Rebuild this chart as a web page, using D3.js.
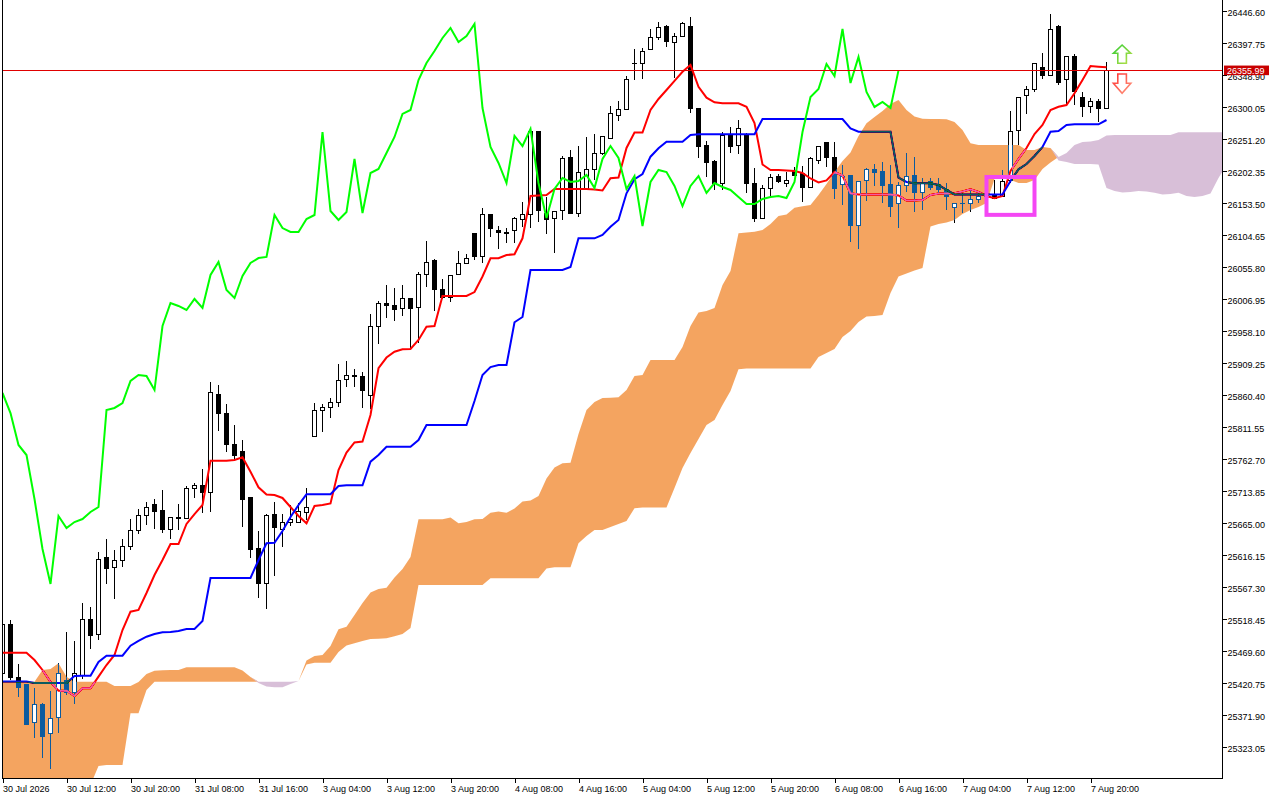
<!DOCTYPE html>
<html>
<head>
<meta charset="utf-8">
<script src="https://cdn.jsdelivr.net/npm/d3@7"></script>
<style>
html, body { margin: 0; padding: 0; background: #fff; }
svg { display: block; }
</style>
</head>
<body>
<div class="chart"></div>
<script>
// hourly bars, 30 Jul 2026 04:00 .. 7 Aug 2026 ~22:00
const opens = [
 25436.0, 25510.8, 25428.4, 25417.7, 25359.7, 25387.2, 25344.4, 25368.8, 25425.3, 25407.0,
 25432.9, 25518.4, 25495.5, 25611.6, 25597.8, 25608.5, 25628.4, 25654.3, 25675.7, 25694.0,
 25684.8, 25655.8, 25672.6, 25672.6, 25718.4, 25723.0, 25710.8, 25861.9, 25832.9, 25784.1,
 25774.9, 25703.2, 25626.8, 25573.4, 25678.7, 25655.8, 25666.5, 25666.5, 25680.3, 25797.8,
 25836.0, 25840.6, 25848.2, 25883.3, 25890.9, 25889.4, 25860.4, 25965.7, 26000.8, 25996.3,
 25993.2, 26007.0, 25994.7, 26043.6, 26065.0, 26020.7, 26008.5, 26043.6, 26061.9, 26106.2,
 26071.1, 26135.2, 26110.8, 26106.2, 26110.8, 26127.6, 26135.2, 26261.9, 26138.2, 26129.1,
 26141.3, 26222.2, 26138.2, 26173.4, 26205.4, 26229.8, 26252.7, 26287.8, 26295.5, 26365.7,
 26365.7, 26387.1, 26405.4, 26422.2, 26397.8, 26408.4, 26422.2, 26297.0, 26242.0, 26216.1,
 26184.0, 26257.3, 26242.0, 26257.3, 26184.0, 26130.6, 26174.9, 26193.2, 26184.0, 26202.3,
 26197.8, 26176.4, 26219.1, 26245.1, 26223.7, 26182.5, 26196.2, 26118.4, 26187.1, 26203.9,
 26202.3, 26181.0, 26152.0, 26179.5, 26196.2, 26168.8, 26185.6, 26181.0, 26173.4, 26145.9,
 26153.5, 26153.5, 26159.6, 26162.7, 26167.2, 26162.7, 26187.1, 26264.9, 26316.9, 26327.5,
 26361.1, 26348.9, 26422.2, 26341.3, 26376.4, 26315.3, 26300.1, 26309.2, 26298.5];
const highs = [
 25513.9, 25516.9, 25449.7, 25419.2, 25413.1, 25390.2, 25408.5, 25451.3, 25498.6, 25484.9,
 25542.9, 25536.8, 25620.7, 25640.6, 25623.8, 25640.6, 25671.1, 25686.4, 25697.1, 25701.6,
 25715.4, 25674.1, 25694.0, 25721.5, 25726.1, 25747.4, 25880.2, 25875.7, 25846.7, 25814.6,
 25791.7, 25703.2, 25652.8, 25678.7, 25697.1, 25678.7, 25692.5, 25695.5, 25718.4, 25848.2,
 25846.7, 25855.8, 25907.7, 25912.3, 25900.1, 25895.5, 25984.0, 26003.9, 26028.3, 26023.7,
 26028.3, 26007.0, 26048.2, 26095.5, 26068.0, 26037.5, 26042.1, 26080.2, 26075.6, 26106.2,
 26145.9, 26135.2, 26118.4, 26115.3, 26132.1, 26155.0, 26264.9, 26263.4, 26162.7, 26139.8,
 26225.3, 26234.4, 26240.5, 26254.3, 26258.8, 26255.8, 26301.6, 26309.2, 26347.4, 26388.6,
 26390.1, 26419.1, 26429.8, 26425.2, 26413.0, 26429.8, 26437.5, 26297.0, 26248.2, 26219.1,
 26261.9, 26269.5, 26280.2, 26260.4, 26206.9, 26181.0, 26197.8, 26197.8, 26200.8, 26208.5,
 26210.0, 26223.7, 26240.5, 26245.1, 26246.6, 26211.5, 26196.2, 26185.6, 26206.9, 26213.0,
 26216.1, 26211.5, 26185.6, 26229.8, 26223.7, 26191.7, 26191.7, 26191.7, 26184.0, 26152.0,
 26168.8, 26173.4, 26170.3, 26168.8, 26188.6, 26203.9, 26294.0, 26315.3, 26332.1, 26367.2,
 26382.5, 26442.0, 26425.2, 26376.4, 26381.0, 26323.0, 26313.8, 26312.3, 26368.8];
const lows = [
 25431.4, 25425.3, 25399.4, 25356.6, 25336.8, 25306.2, 25289.4, 25344.4, 25402.4, 25388.7,
 25426.8, 25472.6, 25486.4, 25571.9, 25549.0, 25597.8, 25623.8, 25648.2, 25661.9, 25655.8,
 25649.7, 25640.6, 25654.3, 25672.6, 25703.2, 25680.3, 25681.8, 25805.4, 25773.4, 25761.2,
 25658.9, 25611.6, 25550.5, 25533.7, 25584.1, 25628.4, 25660.4, 25665.0, 25669.6, 25797.8,
 25803.9, 25825.3, 25842.1, 25872.6, 25872.6, 25840.6, 25839.0, 25938.3, 25977.9, 25973.4,
 25981.0, 25929.1, 25939.8, 26025.3, 25988.6, 26007.0, 26002.4, 26043.6, 26061.9, 26066.5,
 26061.9, 26101.6, 26083.3, 26092.4, 26092.4, 26116.9, 26115.3, 26124.5, 26106.2, 26077.2,
 26127.6, 26136.7, 26132.1, 26173.4, 26188.6, 26226.8, 26251.2, 26278.7, 26295.5, 26341.3,
 26342.8, 26387.1, 26402.3, 26391.7, 26344.3, 26406.9, 26290.9, 26222.2, 26193.2, 26173.4,
 26173.4, 26229.8, 26228.3, 26168.8, 26124.5, 26129.1, 26164.2, 26184.0, 26177.9, 26196.2,
 26155.0, 26176.4, 26213.0, 26208.5, 26159.6, 26150.5, 26094.0, 26083.3, 26156.6, 26179.5,
 26153.5, 26132.1, 26115.3, 26170.3, 26139.8, 26142.8, 26173.4, 26168.8, 26142.8, 26123.0,
 26138.2, 26139.8, 26153.5, 26159.6, 26161.1, 26162.7, 26184.0, 26242.0, 26289.4, 26323.0,
 26342.8, 26347.4, 26333.6, 26303.1, 26303.1, 26284.8, 26290.9, 26277.2, 26298.5];
const closes = [
 25510.8, 25428.4, 25414.6, 25358.1, 25387.2, 25339.8, 25367.3, 25436.0, 25407.0, 25434.5,
 25518.4, 25492.5, 25610.0, 25596.3, 25608.5, 25628.4, 25654.3, 25675.7, 25689.4, 25681.8,
 25655.8, 25674.1, 25674.1, 25718.4, 25721.5, 25712.3, 25863.5, 25832.9, 25784.1, 25768.8,
 25701.6, 25625.3, 25571.9, 25675.7, 25657.4, 25666.5, 25671.1, 25681.8, 25689.4, 25837.5,
 25840.6, 25848.2, 25881.8, 25890.9, 25889.4, 25868.0, 25965.7, 26000.8, 25996.3, 25990.2,
 26007.0, 25993.2, 26043.6, 26063.4, 26020.7, 26008.5, 26042.1, 26061.9, 26069.5, 26071.1,
 26135.2, 26115.3, 26109.2, 26109.2, 26129.1, 26135.2, 26261.9, 26141.3, 26127.6, 26139.8,
 26220.7, 26138.2, 26199.3, 26205.4, 26229.8, 26254.3, 26289.4, 26295.5, 26341.3, 26367.2,
 26385.5, 26405.4, 26420.7, 26399.3, 26408.4, 26426.8, 26298.5, 26239.0, 26214.6, 26184.0,
 26255.8, 26240.5, 26266.5, 26184.0, 26130.6, 26174.9, 26191.7, 26185.6, 26187.1, 26196.2,
 26176.4, 26220.7, 26240.5, 26222.2, 26174.9, 26194.7, 26118.4, 26185.6, 26203.9, 26200.8,
 26179.5, 26148.9, 26179.5, 26194.7, 26168.8, 26184.0, 26177.9, 26173.4, 26162.7, 26152.0,
 26152.0, 26159.6, 26162.7, 26164.2, 26161.1, 26185.6, 26261.9, 26315.3, 26327.5, 26365.7,
 26347.4, 26419.1, 26336.7, 26376.4, 26323.0, 26300.1, 26307.7, 26298.5, 26355.99];

// Ichimoku lines
const tenkan = [
 25467.0, 25467.0, 25467.0, 25467.0, 25455.8, 25440.6, 25422.3, 25409.0, 25409.0, 25400.9,
 25412.6, 25412.6, 25430.4, 25448.2, 25463.5, 25501.6, 25529.6, 25532.2, 25558.1, 25585.6,
 25608.5, 25632.9, 25632.9, 25663.5, 25678.7, 25692.5, 25760.1, 25760.1, 25760.1, 25761.2,
 25765.3, 25743.3, 25719.5, 25708.5, 25707.7, 25703.2, 25689.4, 25675.7, 25664.5, 25690.9,
 25692.5, 25694.8, 25745.9, 25772.6, 25787.9, 25789.4, 25829.9, 25901.2, 25917.6, 25926.5,
 25930.2, 25930.6, 25944.4, 25964.7, 25965.7, 26011.5, 26011.5, 26011.5, 26011.5, 26017.6,
 26041.3, 26069.1, 26069.1, 26074.1, 26075.2, 26099.6, 26164.2, 26165.0, 26165.7, 26174.9,
 26174.9, 26174.9, 26174.9, 26174.9, 26174.1, 26172.6, 26191.2, 26192.4, 26237.5, 26261.1,
 26261.1, 26295.5, 26312.3, 26326.0, 26339.8, 26353.9, 26364.2, 26331.0, 26314.3, 26307.2,
 26305.7, 26305.7, 26305.7, 26300.5, 26275.6, 26212.3, 26203.9, 26203.9, 26203.1, 26202.3,
 26199.3, 26190.9, 26184.8, 26187.9, 26200.8, 26195.5, 26168.3, 26166.5, 26166.5, 26166.5,
 26166.5, 26166.5, 26165.0, 26157.3, 26157.3, 26158.1, 26165.7, 26168.0, 26168.0, 26168.3,
 26171.1, 26174.4, 26170.3, 26164.2, 26160.7, 26164.2, 26202.3, 26220.7, 26237.5, 26258.8,
 26272.6, 26295.5, 26300.5, 26303.1, 26321.0, 26341.3, 26362.6, 26361.6, 26360.7];
const kijun = [
 25423.0, 25423.0, 25423.0, 25423.0, 25420.7, 25420.7, 25420.7, 25420.7, 25420.7, 25431.4,
 25431.9, 25431.9, 25452.8, 25462.4, 25462.4, 25462.4, 25477.7, 25484.9, 25491.4, 25495.5,
 25498.1, 25498.6, 25500.1, 25503.2, 25503.2, 25515.4, 25581.0, 25581.0, 25581.0, 25581.0,
 25581.0, 25581.0, 25608.5, 25634.0, 25634.9, 25652.8, 25674.1, 25692.5, 25708.8, 25708.8,
 25708.8, 25708.8, 25721.5, 25722.5, 25722.5, 25722.5, 25758.6, 25768.8, 25781.5, 25781.5,
 25781.5, 25781.5, 25791.7, 25814.6, 25814.6, 25814.6, 25814.6, 25814.6, 25814.6, 25851.2,
 25890.9, 25903.1, 25906.2, 25906.2, 25971.4, 25979.5, 26051.2, 26051.2, 26051.2, 26051.2,
 26051.2, 26055.8, 26099.6, 26099.6, 26099.6, 26104.7, 26117.3, 26127.6, 26168.3, 26189.7,
 26197.8, 26224.2, 26237.0, 26247.1, 26247.1, 26247.1, 26257.3, 26258.4, 26258.4, 26258.4,
 26258.4, 26258.4, 26258.4, 26258.4, 26258.4, 26281.7, 26281.7, 26281.7, 26281.7, 26281.7,
 26281.7, 26281.7, 26281.7, 26281.7, 26281.7, 26281.7, 26267.5, 26262.3, 26262.3, 26262.3,
 26262.3, 26262.3, 26192.4, 26185.6, 26183.6, 26183.6, 26183.6, 26181.0, 26173.4, 26166.5,
 26166.5, 26166.5, 26166.5, 26166.5, 26166.5, 26166.5, 26187.1, 26204.9, 26213.0, 26225.3,
 26239.0, 26262.3, 26263.4, 26272.6, 26273.6, 26273.6, 26273.6, 26273.6, 26280.2];
// senkou spans, already shifted forward (index = bar on screen)
const spanA = [
 25422.7, 25422.7, 25422.7, 25422.7, 25422.7, 25440.6, 25442.1, 25450.8, 25430.4, 25422.7,
 25422.7, 25422.7, 25422.7, 25422.7, 25416.2, 25416.2, 25416.2, 25422.3, 25434.5, 25439.5,
 25440.1, 25440.6, 25440.6, 25444.7, 25444.7, 25444.7, 25444.7, 25444.7, 25444.7, 25444.7,
 25439.8, 25429.9, 25420.7, 25415.4, 25414.2, 25414.2, 25419.2, 25423.8, 25455.1, 25462.0,
 25463.5, 25477.2, 25502.7, 25506.7, 25524.5, 25542.9, 25558.9, 25564.2, 25566.2, 25581.8,
 25594.8, 25613.1, 25670.6, 25670.6, 25670.6, 25670.6, 25673.4, 25664.5, 25666.5, 25670.6,
 25671.1, 25680.7, 25682.5, 25680.7, 25687.1, 25697.8, 25699.3, 25706.2, 25732.9, 25749.7,
 25756.1, 25757.0, 25800.9, 25837.5, 25849.7, 25855.8, 25856.1, 25856.9, 25868.0, 25889.4,
 25890.9, 25913.8, 25913.8, 25913.8, 25913.8, 25933.7, 25965.7, 25986.3, 25988.6, 25993.2,
 26028.3, 26049.7, 26107.2, 26108.5, 26109.7, 26112.3, 26121.4, 26133.7, 26135.9, 26146.2,
 26148.5, 26150.5, 26165.7, 26182.5, 26200.8, 26217.6, 26230.6, 26255.8, 26275.2, 26284.8,
 26294.0, 26304.6, 26310.7, 26295.5, 26285.6, 26282.0, 26281.7, 26281.7, 26281.3, 26277.2,
 26264.9, 26244.6, 26242.0, 26242.0, 26242.0, 26242.0, 26242.0, 26242.0, 26234.4, 26234.4,
 26239.0, 26237.5, 26218.4, 26216.1, 26213.0, 26213.0, 26213.0, 26212.3, 26176.4, 26171.8,
 26169.5, 26170.3, 26171.8, 26171.1, 26169.2, 26166.5, 26167.2, 26169.2, 26164.2, 26162.7,
 26164.2, 26168.0, 26191.7, 26211.5];
const spanB = [
 25242.1, 25242.1, 25242.1, 25242.1, 25242.1, 25242.1, 25242.1, 25242.1, 25242.1, 25242.1,
 25242.1, 25265.0, 25294.0, 25295.6, 25295.6, 25295.6, 25374.5, 25374.5, 25410.1, 25422.7,
 25422.7, 25422.7, 25422.7, 25422.7, 25422.7, 25422.7, 25422.7, 25422.7, 25422.7, 25422.7,
 25422.7, 25422.7, 25422.7, 25422.7, 25422.7, 25422.7, 25422.7, 25423.8, 25449.0, 25451.7,
 25451.7, 25451.7, 25468.1, 25478.0, 25481.3, 25484.9, 25487.9, 25488.4, 25489.0, 25492.0,
 25495.5, 25504.7, 25570.3, 25570.3, 25570.3, 25570.3, 25570.3, 25570.3, 25570.3, 25570.3,
 25570.3, 25580.6, 25580.6, 25580.6, 25580.6, 25580.6, 25580.6, 25580.6, 25595.5, 25597.4,
 25597.4, 25597.4, 25634.0, 25645.1, 25654.3, 25654.3, 25658.9, 25663.5, 25668.0, 25687.4,
 25688.7, 25688.7, 25688.7, 25688.7, 25718.4, 25749.0, 25771.9, 25793.2, 25814.6, 25822.2,
 25845.1, 25866.5, 25899.6, 25900.9, 25900.9, 25900.9, 25900.9, 25900.9, 25900.9, 25900.9,
 25900.9, 25900.9, 25918.4, 25924.5, 25930.6, 25948.9, 25958.1, 25971.8, 25980.2, 25981.0,
 25982.5, 26016.1, 26041.3, 26045.9, 26050.5, 26054.3, 26117.6, 26121.4, 26123.7, 26127.6,
 26136.7, 26142.8, 26147.4, 26153.5, 26190.1, 26191.7, 26188.6, 26184.0, 26184.0, 26188.6,
 26205.4, 26215.3, 26223.7, 26229.8, 26242.0, 26246.6, 26247.4, 26249.7, 26256.5, 26257.3,
 26257.3, 26257.3, 26257.3, 26257.3, 26257.3, 26257.3, 26257.3, 26261.4, 26261.4, 26261.4,
 26261.4, 26261.4, 26261.4, 26261.4];
const chikouShift = 26;

const timeLabels = ["30 Jul 2026", "30 Jul 12:00", "30 Jul 20:00", "31 Jul 08:00", "31 Jul 16:00",
  "3 Aug 04:00", "3 Aug 12:00", "3 Aug 20:00", "4 Aug 08:00", "4 Aug 16:00", "5 Aug 04:00",
  "5 Aug 12:00", "5 Aug 20:00", "6 Aug 08:00", "6 Aug 16:00", "7 Aug 04:00", "7 Aug 12:00", "7 Aug 20:00"];
const labelEvery = 8;
const priceTicks = [25323.05, 25371.90, 25420.75, 25469.60, 25518.45, 25567.30, 25616.15, 25665.00,
  25713.85, 25762.70, 25811.55, 25860.40, 25909.25, 25958.10, 26006.95, 26055.80, 26104.65,
  26153.50, 26202.35, 26251.20, 26300.05, 26348.90, 26397.75, 26446.60];
const lastPrice = 26355.99;

// drawn objects: rectangle and two arrows
const boxBars = [123, 129];
const boxPrices = [26135.4, 26193.2];
const arrowBar = 139.95;
const arrowUpTip = 26394.7;
const arrowDownTip = 26321.0;

const W = 1280, H = 800;
const plotLeft = 2, plotRight = 1222, plotBottom = 778;

const svg = d3.select(".chart").append("svg")
  .attr("width", W).attr("height", H)
  .style("font-family", "'Liberation Sans', Arial, sans-serif");

svg.append("rect").attr("width", W).attr("height", H).attr("fill", "#fff");

// 8 px per bar
const x = d3.scaleLinear().domain([0, 1]).range([2.5, 10.5]);
const y = d3.scaleLinear().domain([25323.05, 26446.60]).range([747, 11]);

const defs = svg.append("defs");
defs.append("clipPath").attr("id", "plotClip")
  .append("rect").attr("x", plotLeft).attr("y", 0)
  .attr("width", plotRight - plotLeft).attr("height", plotBottom);

const plot = svg.append("g").attr("clip-path", "url(#plotClip)");
// backdrop inside the group so the cloud blend has something to act on
plot.append("rect").attr("x", 0).attr("y", 0).attr("width", W).attr("height", H).attr("fill", "#fff");

const bars = opens.map((o, i) => ({ i: i, o: o, h: highs[i], l: lows[i], c: closes[i] }));

// candles
const cg = plot.append("g").attr("shape-rendering", "crispEdges");
cg.selectAll("line").data(bars).join("line")
  .attr("x1", d => x(d.i)).attr("x2", d => x(d.i))
  .attr("y1", d => y(d.h)).attr("y2", d => y(d.l))
  .attr("stroke", "#000");
cg.selectAll("rect").data(bars).join("rect")
  .attr("x", d => x(d.i) - 2).attr("width", 4)
  .attr("y", d => y(Math.max(d.o, d.c)))
  .attr("height", d => Math.max(Math.abs(y(d.o) - y(d.c)), 0.5))
  .attr("fill", d => d.c > d.o ? "#fff" : "#000")
  .attr("stroke", "#000");

// keep the cloud out of hollow bodies
const mask = defs.append("mask").attr("id", "bodyHoles")
  .attr("maskUnits", "userSpaceOnUse")
  .attr("x", 0).attr("y", 0).attr("width", W).attr("height", H);
mask.append("rect").attr("width", W).attr("height", H).attr("fill", "#fff");
mask.selectAll("rect.hole")
  .data(bars.filter(d => d.c > d.o && y(d.o) - y(d.c) > 2))
  .join("rect").attr("class", "hole")
  .attr("shape-rendering", "crispEdges")
  .attr("x", d => x(d.i) - 1.5).attr("width", 3)
  .attr("y", d => y(d.c) + 0.5)
  .attr("height", d => y(d.o) - y(d.c) - 1)
  .attr("fill", "#000");

const line = d3.line().x((d, i) => x(i)).y(d => y(d));

plot.append("path").datum(tenkan).attr("d", line)
  .attr("fill", "none").attr("stroke", "#ff0000").attr("stroke-width", 2);
plot.append("path").datum(kijun).attr("d", line)
  .attr("fill", "none").attr("stroke", "#0000ff").attr("stroke-width", 2);

// cloud: difference blend gives sandybrown / thistle on white, like the terminal's xor fill
const cloud = spanA.map((a, i) => ({ i: i, a: a, b: spanB[i] }));
const blend = plot.append("g").style("mix-blend-mode", "difference");
const cloudG = blend.append("g").attr("mask", "url(#bodyHoles)");
cloudG.append("path").datum(cloud)
  .attr("d", d3.area().x(d => x(d.i)).y0(d => y(d.b)).y1(d => y(Math.max(d.a, d.b))))
  .attr("fill", "#0b5b9f");
cloudG.append("path").datum(cloud)
  .attr("d", d3.area().x(d => x(d.i)).y0(d => y(d.a)).y1(d => y(Math.max(d.a, d.b))))
  .attr("fill", "#274027");

// chikou span: closes drawn 26 bars back
plot.append("path").datum(closes.slice(chikouShift)).attr("d", line)
  .attr("fill", "none").attr("stroke", "#00ff00").attr("stroke-width", 2);

// bid line
plot.append("line")
  .attr("x1", 0).attr("x2", plotRight)
  .attr("y1", Math.round(y(lastPrice)) + 0.5).attr("y2", Math.round(y(lastPrice)) + 0.5)
  .attr("stroke", "#e00000");

// magenta rectangle object
plot.append("rect")
  .attr("x", x(boxBars[0])).attr("width", x(boxBars[1]) - x(boxBars[0]))
  .attr("y", y(boxPrices[1])).attr("height", y(boxPrices[0]) - y(boxPrices[1]))
  .attr("fill", "none").attr("stroke", "#f446f4").attr("stroke-width", 4);

// arrows
const ax = x(arrowBar);
const upPath = "M0,0 L8.7,8.3 L4.3,8.3 L4.3,18.3 L-4.3,18.3 L-4.3,8.3 L-8.7,8.3 Z";
const downPath = "M0,0 L8.7,-10 L4.3,-10 L4.3,-19.3 L-4.3,-19.3 L-4.3,-10 L-8.7,-10 Z";
const gradUp = defs.append("linearGradient").attr("id", "gUp").attr("x1", 0).attr("y1", 0).attr("x2", 1).attr("y2", 1);
gradUp.append("stop").attr("offset", "0%").attr("stop-color", "#33cc33");
gradUp.append("stop").attr("offset", "100%").attr("stop-color", "#b8e04a");
const gradDn = defs.append("linearGradient").attr("id", "gDn").attr("x1", 0).attr("y1", 0).attr("x2", 1).attr("y2", 1);
gradDn.append("stop").attr("offset", "0%").attr("stop-color", "#ff3030");
gradDn.append("stop").attr("offset", "100%").attr("stop-color", "#ff9a80");
svg.append("path").attr("d", upPath)
  .attr("transform", `translate(${ax},${y(arrowUpTip)})`)
  .attr("fill", "#fff").attr("stroke", "url(#gUp)").attr("stroke-width", 1.6);
svg.append("path").attr("d", downPath)
  .attr("transform", `translate(${ax},${y(arrowDownTip)})`)
  .attr("fill", "#fff").attr("stroke", "url(#gDn)").attr("stroke-width", 1.6);

// frame
const frame = svg.append("g").attr("stroke", "#000").attr("shape-rendering", "crispEdges");
frame.append("line").attr("x1", 2.5).attr("x2", 2.5).attr("y1", 0).attr("y2", plotBottom + 0.5);
frame.append("line").attr("x1", plotRight + 0.5).attr("x2", plotRight + 0.5).attr("y1", 0).attr("y2", plotBottom + 0.5);
frame.append("line").attr("x1", 2).attr("x2", plotRight + 1).attr("y1", plotBottom + 0.5).attr("y2", plotBottom + 0.5);

// price axis
const yAxis = svg.append("g")
  .attr("transform", `translate(${plotRight + 0.5},0)`)
  .call(d3.axisRight(y).tickValues(priceTicks).tickFormat(d3.format(".2f")).tickSize(4).tickPadding(1));
yAxis.select(".domain").remove();
yAxis.selectAll("line").attr("shape-rendering", "crispEdges");
yAxis.selectAll("text").attr("dy", "0.45em").style("font-size", "9px").attr("fill", "#000");

// time axis
const xAxis = svg.append("g")
  .attr("transform", `translate(0,${plotBottom + 1})`)
  .call(d3.axisBottom(x).tickValues(timeLabels.map((t, i) => i * labelEvery))
    .tickFormat((d, i) => timeLabels[i]).tickSize(4).tickPadding(3));
xAxis.select(".domain").remove();
xAxis.selectAll("line").attr("shape-rendering", "crispEdges");
xAxis.selectAll("text").attr("text-anchor", "start").attr("x", 0)
  .style("font-size", "9px").attr("fill", "#000");

// current price tag
const tagY = y(lastPrice);
svg.append("rect").attr("x", 1224).attr("y", tagY - 4.8).attr("width", 45).attr("height", 9.6)
  .attr("fill", "#c80000");
svg.append("text").attr("x", 1227).attr("y", tagY + 3.6)
  .style("font-size", "9px").attr("fill", "#fff").text(d3.format(".2f")(lastPrice));
</script>
</body>
</html>
